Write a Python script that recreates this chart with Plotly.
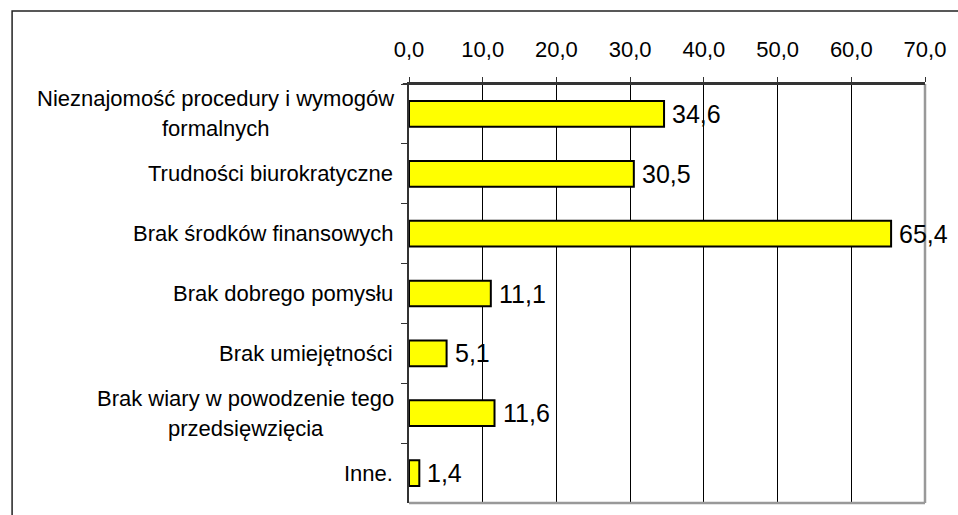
import plotly.graph_objects as go

# Survey results: barriers to starting a business (percent of respondents)
categories = [
    "Nieznajomość procedury i wymogów formalnych",
    "Trudności biurokratyczne",
    "Brak środków finansowych",
    "Brak dobrego pomysłu",
    "Brak umiejętności",
    "Brak wiary w powodzenie tego przedsięwzięcia",
    "Inne.",
]
# category names as printed, split into lines
label_lines = [
    ["Nieznajomość procedury i wymogów", "formalnych"],
    ["Trudności biurokratyczne"],
    ["Brak środków finansowych"],
    ["Brak dobrego pomysłu"],
    ["Brak umiejętności"],
    ["Brak wiary w powodzenie tego", "przedsięwzięcia"],
    ["Inne."],
]
values = [34.6, 30.5, 65.4, 11.1, 5.1, 11.6, 1.4]
x_ticks = [0, 10, 20, 30, 40, 50, 60, 70]

FONT = "Liberation Sans, Arial, sans-serif"
LABEL_SIZE = 22
LINE_GAP = 30          # px between the two lines of a wrapped name
AXIS_GAP = 14          # px between name and category axis
# horizontal centre (paper units) of wrapped names, so both lines are centred
WRAP_CENTRE = {0: -0.375, 5: -0.3163}

fig = go.Figure()
fig.add_trace(go.Bar(
    x=values,
    y=categories,
    orientation="h",
    width=0.43,
    marker=dict(color="#FFFF00", line=dict(color="#000000", width=2)),
    hoverinfo="x+y",
    cliponaxis=False,
))

annotations = []
for i, (cat, lines) in enumerate(zip(categories, label_lines)):
    if len(lines) == 1:
        annotations.append(dict(
            x=0, xref="paper", y=cat, yref="y",
            text=lines[0], showarrow=False, xanchor="right", yanchor="middle",
            xshift=-AXIS_GAP,
            font=dict(family=FONT, size=LABEL_SIZE, color="#000000"),
        ))
    else:
        n = len(lines)
        for k, line in enumerate(lines):
            annotations.append(dict(
                x=WRAP_CENTRE[i], xref="paper", y=cat, yref="y",
                text=line, showarrow=False, xanchor="center", yanchor="middle",
                yshift=((n - 1) / 2 - k) * LINE_GAP,
                font=dict(family=FONT, size=LABEL_SIZE, color="#000000"),
            ))
# value labels just past the end of each bar
for cat, v in zip(categories, values):
    annotations.append(dict(
        x=v, xref="x", y=cat, yref="y",
        text=f"{v:.1f}".replace(".", ","), showarrow=False,
        xanchor="left", yanchor="middle", xshift=6,
        font=dict(family=FONT, size=25, color="#000000"),
    ))

shapes = [
    # outer chart frame
    dict(type="rect", xref="paper", yref="paper",
         x0=-0.7692, x1=1.3, y0=-0.3, y1=1.1742,
         line=dict(color="#222222", width=1.5), layer="below"),
    # plot area border (right and bottom)
    dict(type="line", xref="paper", yref="paper", x0=1, x1=1, y0=0, y1=1,
         line=dict(color="#999999", width=2.5), layer="above"),
    dict(type="line", xref="paper", yref="paper", x0=0, x1=1, y0=0, y1=0,
         line=dict(color="#999999", width=2.5), layer="above"),
    # value axis line along the top edge
    dict(type="line", xref="paper", yref="paper", x0=-0.012, x1=1, y0=1, y1=1,
         line=dict(color="#333333", width=2), layer="above"),
]

fig.update_layout(
    width=958, height=515,
    margin=dict(l=409, r=29, t=84, b=12, pad=0),
    paper_bgcolor="#FFFFFF", plot_bgcolor="#FFFFFF",
    separators=", ",
    showlegend=False,
    font=dict(family=FONT, color="#000000"),
    annotations=annotations,
    shapes=shapes,
    xaxis=dict(
        side="top", range=[0, 70], tickvals=x_ticks, tickformat=".1f",
        showgrid=True, gridcolor="#000000", gridwidth=1,
        zeroline=False, showline=True, linecolor="#333333", linewidth=2,
        ticks="outside", ticklen=5, tickcolor="#333333", tickwidth=1,
        ticklabelstandoff=11,
        tickfont=dict(family=FONT, size=22, color="#000000"),
        fixedrange=True,
    ),
    yaxis=dict(
        autorange="reversed", showticklabels=False, showgrid=False,
        zeroline=False, showline=True, linecolor="#333333", linewidth=1.5,
        ticks="outside", tickson="boundaries", ticklen=6,
        tickcolor="#333333", tickwidth=1, fixedrange=True,
    ),
)

fig.write_html("out.html")
